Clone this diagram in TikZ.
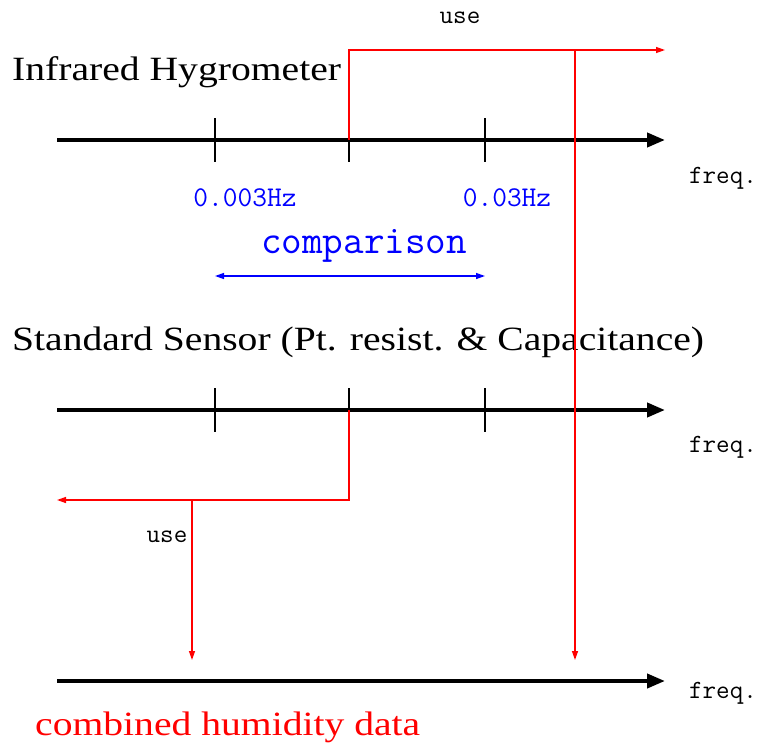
\documentclass[tikz,border=0pt]{standalone}
\usepackage{fontspec}
\usepackage{graphicx}
\setmainfont{Liberation Serif}
\usetikzlibrary{arrows.meta}
\newcommand{\widetext}[1]{\scalebox{1.165}[1]{#1}}
\begin{document}
\begin{tikzpicture}[x=1pt,y=-1pt,
  axis/.style={line width=4pt,-{Triangle[length=18pt,width=14pt]}},
  tick/.style={line width=1.3pt},
  redline/.style={draw=red,line width=1.3pt},
  redarrow/.style={redline,-{Triangle[length=9pt,width=6pt]}},
  bluearrow/.style={draw=blue,line width=1.3pt,{Triangle[length=9pt,width=6pt]}-{Triangle[length=9pt,width=6pt]}},
  title/.style={font=\fontsize{34}{40}\selectfont,anchor=base west,inner sep=0pt},
  small/.style={font=\ttfamily\fontsize{26.3}{30}\selectfont,inner sep=0pt},
  hz/.style={font=\ttfamily\fontsize{28.6}{33}\selectfont,text=blue,inner sep=0pt},
  every node/.style={inner sep=0pt}]
\useasboundingbox (0,0) rectangle (761,745);
% axis coordinates
\coordinate (a1s) at (57,140); \coordinate (a1e) at (665,140);
\coordinate (a2s) at (57,410); \coordinate (a2e) at (665,410);
\coordinate (a3s) at (57,681); \coordinate (a3e) at (665,681);
\foreach \n/\x in {A/215,B/349,C/485}{
  \coordinate (t1\n top) at (\x,118); \coordinate (t1\n bot) at (\x,162);
  \coordinate (t2\n top) at (\x,388); \coordinate (t2\n bot) at (\x,432);
}
% axes
\draw[axis] (a1s) -- (a1e);
\draw[axis] (a2s) -- (a2e);
\draw[axis] (a3s) -- (a3e);
% ticks
\foreach \n in {A,B,C}{
  \draw[tick] (t1\n top) -- (t1\n bot);
  \draw[tick] (t2\n top) -- (t2\n bot);
}
% texts
\node[title] (ih) at (12,80) {\widetext{Infrared Hygrometer}};
\node[title] (ss) at (12,350) {\widetext{Standard Sensor (Pt. resist. \& Capacitance)}};
\node[title,text=red] (chd) at (35,735) {\widetext{combined humidity data}};
\node[small] (f1) at (723,178) {freq.};
\node[small] (f2) at (723,447) {freq.};
\node[small] (f3) at (723,693) {freq.};
\node[small] (use1) at (460,18) {use};
\node[small] (use2) at (167,537) {use};
\node[hz] (hz1) at (245,198) {0.003Hz};
\node[hz] (hz2) at (507,198) {0.03Hz};
\node[font=\ttfamily\fontsize{40}{46}\selectfont,text=blue] (cmp) at (364,246) {comparison};
% blue comparison arrow
\coordinate (cL) at (215,276); \coordinate (cR) at (485,276);
\draw[bluearrow] (cL) -- (cR);
% red upper path
\coordinate (r1a) at (349,140); \coordinate (r1b) at (349,50); \coordinate (r1c) at (665,50);
\coordinate (r1d) at (575,50); \coordinate (r1e) at (575,660);
\draw[redarrow] (r1a) -- (r1b) -- (r1c);
\draw[redarrow] (r1d) -- (r1e);
% red lower path
\coordinate (r2a) at (349,410); \coordinate (r2b) at (349,500); \coordinate (r2c) at (57,500);
\coordinate (r2d) at (192,500); \coordinate (r2e) at (192,660);
\draw[redarrow] (r2a) -- (r2b) -- (r2c);
\draw[redarrow] (r2d) -- (r2e);
\end{tikzpicture}
\end{document}
